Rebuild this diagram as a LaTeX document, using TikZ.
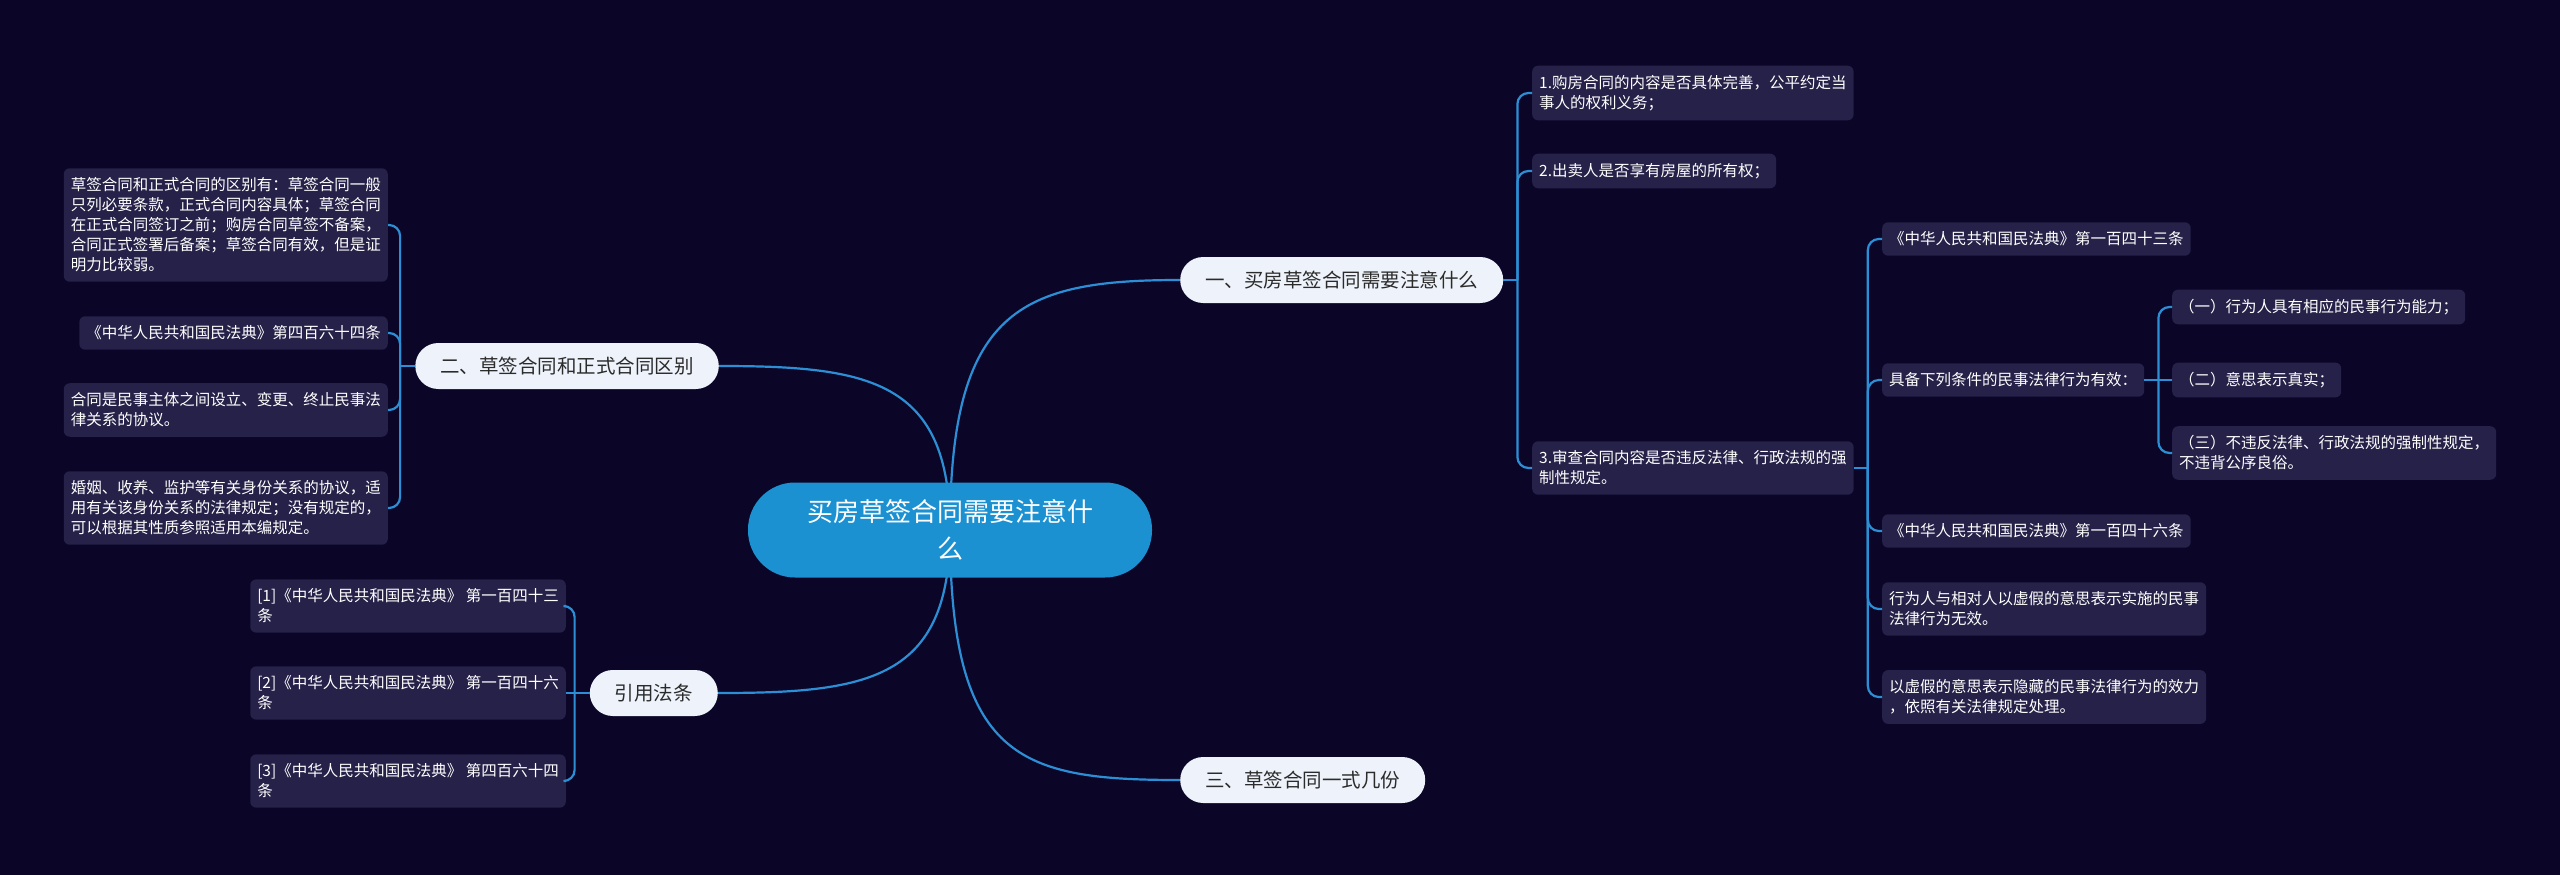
\documentclass[tikz,border=0pt]{standalone}
\usepackage{fontspec}
\newfontfamily\cjk{Noto Sans CJK SC}
\usetikzlibrary{positioning}
\definecolor{bgc}{HTML}{0B0628}
\definecolor{leafc}{HTML}{252148}
\definecolor{linec}{HTML}{2C8FD6}
\definecolor{rootc}{HTML}{1B91D2}
\definecolor{topicc}{HTML}{EEF3FB}
\definecolor{topict}{HTML}{2B2B2B}
\pgfdeclarelayer{bg}
\pgfdeclarelayer{lines}
\pgfsetlayers{bg,lines,main}

\begin{document}
\begin{tikzpicture}[x=1pt, y=-1pt,
  leaf/.style={fill=leafc, text=white, rounded corners=6pt, align=left, inner xsep=7pt, inner ysep=9.5pt, font=\cjk\fontsize{15.5}{20}\selectfont},
  topic/.style={fill=topicc, text=topict, rounded corners=23pt, minimum height=46pt, inner xsep=25pt, inner ysep=0pt, font=\cjk\fontsize{19.5}{24}\selectfont},
  rootnode/.style={fill=rootc, text=white, rounded corners=47pt, minimum width=404pt, minimum height=95pt, align=center, inner sep=0pt, font=\cjk\fontsize{26}{37}\selectfont},
  conn/.style={draw=linec, line width=2.2pt},
  fork/.style={conn, rounded corners=11pt}]
\begin{pgfonlayer}{bg}
\fill[bgc] (0,0) rectangle (2560,875);
\end{pgfonlayer}
\useasboundingbox (0,0) rectangle (2560,875);

\node[rootnode] (root) at (950,530) {买房草签合同需要注意什\\么};

\node[topic, anchor=west] (t1) at (1180,280) {一、买房草签合同需要注意什么};
\node[topic, anchor=east] (t2) at (719,366) {二、草签合同和正式合同区别};
\node[topic, anchor=east] (t3) at (718,693) {引用法条};
\node[topic, anchor=west] (t4) at (1180,780) {三、草签合同一式几份};

\node[leaf, anchor=east] (a1) at (388,225) {草签合同和正式合同的区别有：草签合同一般\\只列必要条款，正式合同内容具体；草签合同\\在正式合同签订之前；购房合同草签不备案，\\合同正式签署后备案；草签合同有效，但是证\\明力比较弱。};
\node[leaf, anchor=east] (a2) at (388,333) {《中华人民共和国民法典》第四百六十四条};
\node[leaf, anchor=east] (a3) at (388,410) {合同是民事主体之间设立、变更、终止民事法\\律关系的协议。};
\node[leaf, anchor=east] (a4) at (388,508) {婚姻、收养、监护等有关身份关系的协议，适\\用有关该身份关系的法律规定；没有规定的，\\可以根据其性质参照适用本编规定。};

\node[leaf, anchor=west] (r1) at (1532,93) {1.购房合同的内容是否具体完善，公平约定当\\事人的权利义务；};
\node[leaf, anchor=west] (r2) at (1532,171) {2.出卖人是否享有房屋的所有权；};
\node[leaf, anchor=west] (r3) at (1532,468) {3.审查合同内容是否违反法律、行政法规的强\\制性规定。};

\node[leaf, anchor=west] (s1) at (1882,239) {《中华人民共和国民法典》第一百四十三条};
\node[leaf, anchor=west] (s2) at (1882,380) {具备下列条件的民事法律行为有效：};
\node[leaf, anchor=west] (s3) at (1882,531) {《中华人民共和国民法典》第一百四十六条};
\node[leaf, anchor=west] (s4) at (1882,609) {行为人与相对人以虚假的意思表示实施的民事\\法律行为无效。};
\node[leaf, anchor=west] (s5) at (1882,697) {以虚假的意思表示隐藏的民事法律行为的效力\\，依照有关法律规定处理。};

\node[leaf, anchor=west] (u1) at (2172,307) {（一）行为人具有相应的民事行为能力；};
\node[leaf, anchor=west] (u2) at (2172,380) {（二）意思表示真实；};
\node[leaf, anchor=west] (u3) at (2172,453) {（三）不违反法律、行政法规的强制性规定，\\不违背公序良俗。};

\node[leaf, anchor=east] (f1) at (566,606) {[1]《中华人民共和国民法典》 第一百四十三\\条};
\node[leaf, anchor=east] (f2) at (566,693) {[2]《中华人民共和国民法典》 第一百四十六\\条};
\node[leaf, anchor=east] (f3) at (566,781) {[3]《中华人民共和国民法典》 第四百六十四\\条};

\begin{pgfonlayer}{lines}
\draw[conn] (root.center) .. controls +(0,-220) and +(-160,0) .. (t1.west);
\draw[conn] (root.center) .. controls +(0,-150) and +(150,0) .. (t2.east);
\draw[conn] (root.center) .. controls +(0,150) and +(150,0) .. (t3.east);
\draw[conn] (root.center) .. controls +(0,230) and +(-160,0) .. (t4.west);
\end{pgfonlayer}

\draw[conn] (t2.west) -- ++(-15,0) coordinate (j2);
\foreach \n in {a1,a2,a3,a4}
  \draw[fork] (j2) |- (\n.east);

\draw[conn] (t1.east) -- ++(14,0) coordinate (j1);
\foreach \n in {r1,r2,r3}
  \draw[fork] (j1) |- (\n.west);

\draw[conn] (r3.east) -- ++(14,0) coordinate (j3);
\foreach \n in {s1,s2,s3,s4,s5}
  \draw[fork] (j3) |- (\n.west);

\draw[conn] (s2.east) -- ++(14,0) coordinate (j4);
\foreach \n in {u1,u3}
  \draw[fork] (j4) |- (\n.west);
\draw[conn] (j4) -- (u2.west);

\draw[conn] (t3.west) -- ++(-15,0) coordinate (j5);
\foreach \n in {f1,f3}
  \draw[fork] (j5) |- (\n.east);
\draw[conn] (j5) -- (f2.east);
\end{tikzpicture}
\end{document}
